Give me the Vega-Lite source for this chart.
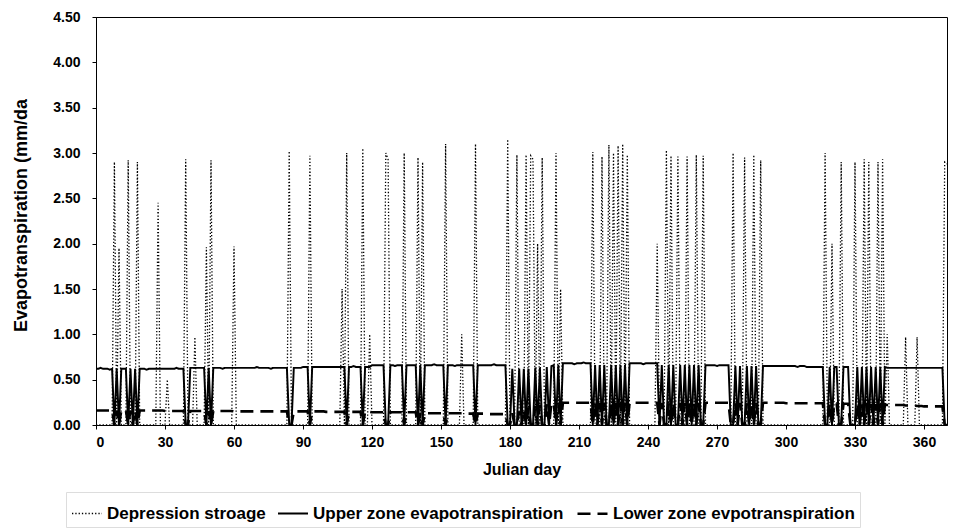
{
  "$schema": "https://vega.github.io/schema/vega-lite/v6.json",
  "width": 851,
  "height": 408,
  "autosize": "none",
  "padding": {"left": 96, "top": 17, "right": 8, "bottom": 105},
  "background": "white",
  "config": {
    "view": {"stroke": "black", "strokeWidth": 1},
    "font": "Liberation Sans",
    "axis": {
      "grid": false,
      "domainColor": "black",
      "tickColor": "black",
      "labelColor": "black",
      "labelFont": "Liberation Sans",
      "labelFontWeight": "bold",
      "labelFontSize": 14,
      "titleColor": "black",
      "titleFont": "Liberation Sans",
      "titleFontWeight": "bold",
      "titleFontSize": 16,
      "tickSize": 4
    }
  },
  "data": {
    "values": [
      {"d":0,"s":0,"u":0.62,"l":0.16},{"d":1,"s":0,"u":0.62,"l":0.16},{"d":2,"s":0,"u":0.63,"l":0.16},{"d":3,"s":0,"u":0.62,"l":0.16},
      {"d":4,"s":0,"u":0.62,"l":0.16},{"d":5,"s":0,"u":0.62,"l":0.16},{"d":6,"s":0,"u":0.61,"l":0.16},{"d":7,"s":0,"u":0.62,"l":0.16},
      {"d":8,"s":2.9,"u":0,"l":0},{"d":9,"s":0,"u":0.62,"l":0.16},{"d":10,"s":1.95,"u":0,"l":0},{"d":11,"s":0,"u":0.62,"l":0.16},
      {"d":12,"s":0,"u":0.62,"l":0.16},{"d":13,"s":0,"u":0.62,"l":0.16},{"d":14,"s":2.92,"u":0,"l":0},{"d":15,"s":0,"u":0.62,"l":0.16},
      {"d":16,"s":0,"u":0,"l":0},{"d":17,"s":0,"u":0.62,"l":0.16},{"d":18,"s":2.9,"u":0,"l":0},{"d":19,"s":0,"u":0.62,"l":0.16},
      {"d":20,"s":0,"u":0.62,"l":0.16},{"d":21,"s":0,"u":0.62,"l":0.16},{"d":22,"s":0,"u":0.61,"l":0.16},{"d":23,"s":0,"u":0.62,"l":0.16},
      {"d":24,"s":0,"u":0.62,"l":0.16},{"d":25,"s":0,"u":0.62,"l":0.16},{"d":26,"s":0,"u":0.62,"l":0.16},{"d":27,"s":2.45,"u":0.62,"l":0.16},
      {"d":28,"s":0,"u":0.62,"l":0.16},{"d":29,"s":0,"u":0.62,"l":0.16},{"d":30,"s":0,"u":0.62,"l":0.155},{"d":31,"s":0.5,"u":0.62,"l":0.155},
      {"d":32,"s":0,"u":0.62,"l":0.155},{"d":33,"s":0,"u":0.62,"l":0.155},{"d":34,"s":0,"u":0.62,"l":0.155},{"d":35,"s":0,"u":0.63,"l":0.155},
      {"d":36,"s":0,"u":0.62,"l":0.155},{"d":37,"s":0,"u":0.62,"l":0.155},{"d":38,"s":0,"u":0.62,"l":0.155},{"d":39,"s":2.93,"u":0,"l":0},
      {"d":40,"s":0,"u":0,"l":0},{"d":41,"s":0,"u":0.63,"l":0.155},{"d":42,"s":0,"u":0.63,"l":0.155},{"d":43,"s":0.97,"u":0.63,"l":0.155},
      {"d":44,"s":0,"u":0.63,"l":0.155},{"d":45,"s":0,"u":0.63,"l":0.155},{"d":46,"s":0,"u":0.63,"l":0.155},{"d":47,"s":0,"u":0.63,"l":0.155},
      {"d":48,"s":1.96,"u":0,"l":0},{"d":49,"s":0,"u":0.63,"l":0.155},{"d":50,"s":2.92,"u":0,"l":0},{"d":51,"s":0,"u":0.63,"l":0.155},
      {"d":52,"s":0,"u":0.63,"l":0.155},{"d":53,"s":0,"u":0.63,"l":0.155},{"d":54,"s":0,"u":0.63,"l":0.155},{"d":55,"s":0,"u":0.62,"l":0.155},
      {"d":56,"s":0,"u":0.63,"l":0.155},{"d":57,"s":0,"u":0.63,"l":0.155},{"d":58,"s":0,"u":0.63,"l":0.155},{"d":59,"s":0,"u":0.63,"l":0.155},
      {"d":60,"s":1.97,"u":0.63,"l":0.15},{"d":61,"s":0,"u":0.63,"l":0.15},{"d":62,"s":0,"u":0.63,"l":0.15},{"d":63,"s":0,"u":0.63,"l":0.15},
      {"d":64,"s":0,"u":0.63,"l":0.15},{"d":65,"s":0,"u":0.63,"l":0.15},{"d":66,"s":0,"u":0.63,"l":0.15},{"d":67,"s":0,"u":0.63,"l":0.15},
      {"d":68,"s":0,"u":0.63,"l":0.15},{"d":69,"s":0,"u":0.63,"l":0.15},{"d":70,"s":0,"u":0.64,"l":0.15},{"d":71,"s":0,"u":0.63,"l":0.15},
      {"d":72,"s":0,"u":0.63,"l":0.15},{"d":73,"s":0,"u":0.63,"l":0.15},{"d":74,"s":0,"u":0.63,"l":0.15},{"d":75,"s":0,"u":0.63,"l":0.15},
      {"d":76,"s":0,"u":0.62,"l":0.15},{"d":77,"s":0,"u":0.63,"l":0.15},{"d":78,"s":0,"u":0.63,"l":0.15},{"d":79,"s":0,"u":0.63,"l":0.15},
      {"d":80,"s":0,"u":0.63,"l":0.15},{"d":81,"s":0,"u":0.63,"l":0.15},{"d":82,"s":0,"u":0.63,"l":0.15},{"d":83,"s":0,"u":0.63,"l":0.15},
      {"d":84,"s":3.02,"u":0,"l":0},{"d":85,"s":0,"u":0,"l":0},{"d":86,"s":0,"u":0.63,"l":0.15},{"d":87,"s":0,"u":0.63,"l":0.15},
      {"d":88,"s":0,"u":0.63,"l":0.15},{"d":89,"s":0,"u":0.63,"l":0.15},{"d":90,"s":0,"u":0.64,"l":0.15},{"d":91,"s":0,"u":0.64,"l":0.15},
      {"d":92,"s":0,"u":0.64,"l":0.15},{"d":93,"s":2.97,"u":0,"l":0},{"d":94,"s":0,"u":0.64,"l":0.15},{"d":95,"s":0,"u":0.64,"l":0.15},
      {"d":96,"s":0,"u":0.64,"l":0.15},{"d":97,"s":0,"u":0.64,"l":0.15},{"d":98,"s":0,"u":0.64,"l":0.15},{"d":99,"s":0,"u":0.64,"l":0.15},
      {"d":100,"s":0,"u":0.64,"l":0.145},{"d":101,"s":0,"u":0.64,"l":0.145},{"d":102,"s":0,"u":0.64,"l":0.145},{"d":103,"s":0,"u":0.64,"l":0.145},
      {"d":104,"s":0,"u":0.64,"l":0.145},{"d":105,"s":0,"u":0.64,"l":0.145},{"d":106,"s":0,"u":0.64,"l":0.145},{"d":107,"s":1.5,"u":0.64,"l":0.145},
      {"d":108,"s":0,"u":0.64,"l":0.145},{"d":109,"s":3.0,"u":0,"l":0},{"d":110,"s":0,"u":0.64,"l":0.145},{"d":111,"s":0,"u":0.64,"l":0.145},
      {"d":112,"s":0,"u":0.65,"l":0.145},{"d":113,"s":0,"u":0.64,"l":0.145},{"d":114,"s":0,"u":0.64,"l":0.145},{"d":115,"s":0,"u":0.64,"l":0.145},
      {"d":116,"s":3.05,"u":0,"l":0},{"d":117,"s":0,"u":0.64,"l":0.145},{"d":118,"s":0,"u":0.64,"l":0.145},{"d":119,"s":1.0,"u":0.64,"l":0.145},
      {"d":120,"s":0,"u":0.66,"l":0.14},{"d":121,"s":0,"u":0.66,"l":0.14},{"d":122,"s":0,"u":0.66,"l":0.14},{"d":123,"s":0,"u":0.66,"l":0.14},
      {"d":124,"s":0,"u":0.66,"l":0.14},{"d":125,"s":0,"u":0.66,"l":0.14},{"d":126,"s":3.0,"u":0,"l":0},{"d":127,"s":2.93,"u":0,"l":0},
      {"d":128,"s":0,"u":0.66,"l":0.14},{"d":129,"s":0,"u":0.66,"l":0.14},{"d":130,"s":0,"u":0.65,"l":0.14},{"d":131,"s":0,"u":0.66,"l":0.14},
      {"d":132,"s":0,"u":0.66,"l":0.14},{"d":133,"s":0,"u":0.66,"l":0.14},{"d":134,"s":3.0,"u":0,"l":0},{"d":135,"s":0,"u":0.66,"l":0.14},
      {"d":136,"s":0,"u":0.66,"l":0.14},{"d":137,"s":0,"u":0.66,"l":0.14},{"d":138,"s":0,"u":0.66,"l":0.14},{"d":139,"s":0,"u":0.66,"l":0.14},
      {"d":140,"s":2.95,"u":0,"l":0},{"d":141,"s":0,"u":0.66,"l":0.13},{"d":142,"s":2.9,"u":0,"l":0},{"d":143,"s":0,"u":0.66,"l":0.13},
      {"d":144,"s":0,"u":0.66,"l":0.13},{"d":145,"s":0,"u":0.66,"l":0.13},{"d":146,"s":0,"u":0.66,"l":0.13},{"d":147,"s":0,"u":0.67,"l":0.13},
      {"d":148,"s":0,"u":0.66,"l":0.13},{"d":149,"s":0,"u":0.66,"l":0.13},{"d":150,"s":0,"u":0.66,"l":0.13},{"d":151,"s":0,"u":0.66,"l":0.13},
      {"d":152,"s":3.1,"u":0,"l":0},{"d":153,"s":0,"u":0.66,"l":0.13},{"d":154,"s":0,"u":0.66,"l":0.13},{"d":155,"s":0,"u":0.66,"l":0.13},
      {"d":156,"s":0,"u":0.65,"l":0.13},{"d":157,"s":0,"u":0.66,"l":0.13},{"d":158,"s":0,"u":0.66,"l":0.13},{"d":159,"s":1.0,"u":0.66,"l":0.13},
      {"d":160,"s":0,"u":0.66,"l":0.125},{"d":161,"s":0,"u":0.66,"l":0.125},{"d":162,"s":0,"u":0.66,"l":0.125},{"d":163,"s":0,"u":0.66,"l":0.125},
      {"d":164,"s":0,"u":0.66,"l":0.125},{"d":165,"s":3.1,"u":0,"l":0},{"d":166,"s":0,"u":0.66,"l":0.125},{"d":167,"s":0,"u":0.66,"l":0.125},
      {"d":168,"s":0,"u":0.66,"l":0.125},{"d":169,"s":0,"u":0.66,"l":0.125},{"d":170,"s":0,"u":0.66,"l":0.12},{"d":171,"s":0,"u":0.66,"l":0.12},
      {"d":172,"s":0,"u":0.66,"l":0.12},{"d":173,"s":0,"u":0.67,"l":0.12},{"d":174,"s":0,"u":0.66,"l":0.12},{"d":175,"s":0,"u":0.66,"l":0.12},
      {"d":176,"s":0,"u":0.66,"l":0.12},{"d":177,"s":0,"u":0.66,"l":0.12},{"d":178,"s":0,"u":0.66,"l":0.12},{"d":179,"s":3.15,"u":0,"l":0},
      {"d":180,"s":0,"u":0,"l":0},{"d":181,"s":0,"u":0.62,"l":0.13},{"d":182,"s":0,"u":0,"l":0},{"d":183,"s":2.98,"u":0,"l":0},
      {"d":184,"s":0,"u":0.62,"l":0.15},{"d":185,"s":0,"u":0,"l":0},{"d":186,"s":0,"u":0.62,"l":0.17},{"d":187,"s":2.98,"u":0,"l":0},
      {"d":188,"s":0,"u":0.62,"l":0.19},{"d":189,"s":2.97,"u":0,"l":0},{"d":190,"s":2.93,"u":0,"l":0},{"d":191,"s":0,"u":0.63,"l":0.21},
      {"d":192,"s":2.0,"u":0,"l":0},{"d":193,"s":0,"u":0.63,"l":0.22},{"d":194,"s":2.95,"u":0,"l":0},{"d":195,"s":0,"u":0,"l":0},
      {"d":196,"s":0,"u":0.64,"l":0.23},{"d":197,"s":0,"u":0,"l":0},{"d":198,"s":0,"u":0.65,"l":0.24},{"d":199,"s":0,"u":0.66,"l":0.24},
      {"d":200,"s":3.0,"u":0,"l":0},{"d":201,"s":0,"u":0.66,"l":0.245},{"d":202,"s":1.5,"u":0,"l":0},{"d":203,"s":0,"u":0.68,"l":0.245},
      {"d":204,"s":0,"u":0.68,"l":0.245},{"d":205,"s":0,"u":0.68,"l":0.245},{"d":206,"s":0,"u":0.68,"l":0.245},{"d":207,"s":0,"u":0.68,"l":0.245},
      {"d":208,"s":0,"u":0.67,"l":0.245},{"d":209,"s":0,"u":0.68,"l":0.245},{"d":210,"s":0,"u":0.68,"l":0.245},{"d":211,"s":0,"u":0.68,"l":0.245},
      {"d":212,"s":0,"u":0.69,"l":0.245},{"d":213,"s":0,"u":0.68,"l":0.245},{"d":214,"s":0,"u":0.68,"l":0.245},{"d":215,"s":0,"u":0.68,"l":0.245},
      {"d":216,"s":3.01,"u":0,"l":0},{"d":217,"s":0,"u":0.66,"l":0.245},{"d":218,"s":0,"u":0,"l":0},{"d":219,"s":0,"u":0.66,"l":0.245},
      {"d":220,"s":2.96,"u":0,"l":0},{"d":221,"s":0,"u":0.66,"l":0.245},{"d":222,"s":0,"u":0,"l":0},{"d":223,"s":3.09,"u":0,"l":0},
      {"d":224,"s":0,"u":0.66,"l":0.245},{"d":225,"s":3.0,"u":0,"l":0},{"d":226,"s":0,"u":0.66,"l":0.245},{"d":227,"s":3.08,"u":0,"l":0},
      {"d":228,"s":0,"u":0.66,"l":0.245},{"d":229,"s":3.1,"u":0,"l":0},{"d":230,"s":0,"u":0.66,"l":0.245},{"d":231,"s":2.98,"u":0,"l":0},
      {"d":232,"s":0,"u":0.68,"l":0.245},{"d":233,"s":0,"u":0.68,"l":0.245},{"d":234,"s":0,"u":0.68,"l":0.245},{"d":235,"s":0,"u":0.68,"l":0.245},
      {"d":236,"s":0,"u":0.68,"l":0.245},{"d":237,"s":0,"u":0.68,"l":0.245},{"d":238,"s":0,"u":0.67,"l":0.245},{"d":239,"s":0,"u":0.68,"l":0.245},
      {"d":240,"s":0,"u":0.68,"l":0.245},{"d":241,"s":0,"u":0.68,"l":0.245},{"d":242,"s":0,"u":0.68,"l":0.245},{"d":243,"s":0,"u":0.68,"l":0.245},
      {"d":244,"s":2.0,"u":0.68,"l":0.245},{"d":245,"s":0,"u":0,"l":0},{"d":246,"s":0,"u":0.66,"l":0.245},{"d":247,"s":0,"u":0,"l":0},
      {"d":248,"s":3.03,"u":0,"l":0},{"d":249,"s":0,"u":0.66,"l":0.245},{"d":250,"s":2.97,"u":0,"l":0},{"d":251,"s":0,"u":0.66,"l":0.245},
      {"d":252,"s":0,"u":0,"l":0},{"d":253,"s":2.96,"u":0,"l":0},{"d":254,"s":0,"u":0.66,"l":0.245},{"d":255,"s":0,"u":0,"l":0},
      {"d":256,"s":0,"u":0.66,"l":0.245},{"d":257,"s":2.96,"u":0,"l":0},{"d":258,"s":0,"u":0.66,"l":0.245},{"d":259,"s":0,"u":0,"l":0},
      {"d":260,"s":0,"u":0.66,"l":0.245},{"d":261,"s":2.98,"u":0,"l":0},{"d":262,"s":0,"u":0.66,"l":0.245},{"d":263,"s":0,"u":0,"l":0},
      {"d":264,"s":2.97,"u":0,"l":0},{"d":265,"s":0,"u":0.66,"l":0.245},{"d":266,"s":0,"u":0.66,"l":0.245},{"d":267,"s":0,"u":0.66,"l":0.245},
      {"d":268,"s":0,"u":0.66,"l":0.245},{"d":269,"s":0,"u":0.66,"l":0.245},{"d":270,"s":0,"u":0.65,"l":0.245},{"d":271,"s":0,"u":0.66,"l":0.245},
      {"d":272,"s":0,"u":0.66,"l":0.245},{"d":273,"s":0,"u":0.66,"l":0.245},{"d":274,"s":0,"u":0.66,"l":0.245},{"d":275,"s":0,"u":0.66,"l":0.245},
      {"d":276,"s":0,"u":0,"l":0},{"d":277,"s":3.0,"u":0,"l":0},{"d":278,"s":0,"u":0.65,"l":0.245},{"d":279,"s":0,"u":0,"l":0},
      {"d":280,"s":0,"u":0.65,"l":0.245},{"d":281,"s":0,"u":0,"l":0},{"d":282,"s":2.95,"u":0,"l":0},{"d":283,"s":0,"u":0.65,"l":0.245},
      {"d":284,"s":0,"u":0,"l":0},{"d":285,"s":0,"u":0.65,"l":0.245},{"d":286,"s":2.98,"u":0,"l":0},{"d":287,"s":0,"u":0.65,"l":0.245},
      {"d":288,"s":0,"u":0,"l":0},{"d":289,"s":2.92,"u":0,"l":0},{"d":290,"s":0,"u":0.65,"l":0.245},{"d":291,"s":0,"u":0.65,"l":0.245},
      {"d":292,"s":0,"u":0.65,"l":0.245},{"d":293,"s":0,"u":0.65,"l":0.245},{"d":294,"s":0,"u":0.65,"l":0.245},{"d":295,"s":0,"u":0.65,"l":0.245},
      {"d":296,"s":0,"u":0.65,"l":0.245},{"d":297,"s":0,"u":0.65,"l":0.245},{"d":298,"s":0,"u":0.65,"l":0.245},{"d":299,"s":0,"u":0.65,"l":0.245},
      {"d":300,"s":0,"u":0.65,"l":0.24},{"d":301,"s":0,"u":0.65,"l":0.24},{"d":302,"s":0,"u":0.65,"l":0.24},{"d":303,"s":0,"u":0.65,"l":0.24},
      {"d":304,"s":0,"u":0.65,"l":0.24},{"d":305,"s":0,"u":0.64,"l":0.24},{"d":306,"s":0,"u":0.65,"l":0.24},{"d":307,"s":0,"u":0.65,"l":0.24},
      {"d":308,"s":0,"u":0.65,"l":0.24},{"d":309,"s":0,"u":0.64,"l":0.24},{"d":310,"s":0,"u":0.64,"l":0.24},{"d":311,"s":0,"u":0.64,"l":0.24},
      {"d":312,"s":0,"u":0.64,"l":0.24},{"d":313,"s":0,"u":0.64,"l":0.24},{"d":314,"s":0,"u":0.64,"l":0.24},{"d":315,"s":0,"u":0.64,"l":0.24},
      {"d":316,"s":0,"u":0.64,"l":0.24},{"d":317,"s":3.0,"u":0,"l":0},{"d":318,"s":0,"u":0,"l":0},{"d":319,"s":0,"u":0.64,"l":0.24},
      {"d":320,"s":2.0,"u":0,"l":0},{"d":321,"s":0,"u":0.64,"l":0.24},{"d":322,"s":0,"u":0.64,"l":0.24},{"d":323,"s":0,"u":0,"l":0},
      {"d":324,"s":2.9,"u":0,"l":0},{"d":325,"s":0,"u":0.64,"l":0.235},{"d":326,"s":0,"u":0.64,"l":0.235},{"d":327,"s":0,"u":0.64,"l":0.235},
      {"d":328,"s":0,"u":0,"l":0},{"d":329,"s":0,"u":0,"l":0},{"d":330,"s":2.9,"u":0,"l":0},{"d":331,"s":0,"u":0.64,"l":0.235},
      {"d":332,"s":0,"u":0,"l":0},{"d":333,"s":0,"u":0.64,"l":0.23},{"d":334,"s":2.93,"u":0,"l":0},{"d":335,"s":0,"u":0.64,"l":0.23},
      {"d":336,"s":2.9,"u":0,"l":0},{"d":337,"s":0,"u":0.64,"l":0.23},{"d":338,"s":0,"u":0,"l":0},{"d":339,"s":0,"u":0.64,"l":0.23},
      {"d":340,"s":2.9,"u":0,"l":0},{"d":341,"s":0,"u":0.64,"l":0.23},{"d":342,"s":2.93,"u":0,"l":0},{"d":343,"s":0,"u":0.64,"l":0.225},
      {"d":344,"s":1.0,"u":0.63,"l":0.22},{"d":345,"s":0,"u":0.63,"l":0.22},{"d":346,"s":0,"u":0.63,"l":0.22},{"d":347,"s":0,"u":0.63,"l":0.22},
      {"d":348,"s":0,"u":0.63,"l":0.22},{"d":349,"s":0,"u":0.63,"l":0.22},{"d":350,"s":0,"u":0.63,"l":0.22},{"d":351,"s":0,"u":0.63,"l":0.22},
      {"d":352,"s":0.97,"u":0.63,"l":0.215},{"d":353,"s":0,"u":0.63,"l":0.215},{"d":354,"s":0,"u":0.63,"l":0.215},{"d":355,"s":0,"u":0.63,"l":0.215},
      {"d":356,"s":0,"u":0.63,"l":0.215},{"d":357,"s":0.97,"u":0.63,"l":0.21},{"d":358,"s":0,"u":0.63,"l":0.21},{"d":359,"s":0,"u":0.63,"l":0.21},
      {"d":360,"s":0,"u":0.63,"l":0.205},{"d":361,"s":0,"u":0.63,"l":0.205},{"d":362,"s":0,"u":0.63,"l":0.205},{"d":363,"s":0,"u":0.63,"l":0.205},
      {"d":364,"s":0,"u":0.63,"l":0.205},{"d":365,"s":0,"u":0.63,"l":0.205},{"d":366,"s":0,"u":0.63,"l":0.205},{"d":367,"s":0,"u":0.63,"l":0.205},
      {"d":368,"s":0,"u":0.63,"l":0.205},{"d":369,"s":2.9,"u":0,"l":0},{"d":370,"s":2.88,"u":0,"l":0}
    ]
  },
  "transform": [{"fold": ["s", "u", "l"], "as": ["key", "v"]}],
  "mark": {"type": "line", "interpolate": "linear", "clip": true},
  "encoding": {
    "x": {
      "field": "d",
      "type": "quantitative",
      "scale": {"domain": [0, 370], "nice": false, "zero": false},
      "axis": {
        "values": [0, 30, 60, 90, 120, 150, 180, 210, 240, 270, 300, 330, 360],
        "title": "Julian day",
        "labelPadding": 6,
        "titlePadding": 12
      }
    },
    "y": {
      "field": "v",
      "type": "quantitative",
      "scale": {"domain": [0, 4.5], "nice": false},
      "axis": {
        "values": [0, 0.5, 1, 1.5, 2, 2.5, 3, 3.5, 4, 4.5],
        "format": ".2f",
        "title": "Evapotranspiration (mm/da",
        "titleFontSize": 18,
        "titleY": 198,
        "labelPadding": 12,
        "titlePadding": 22
      }
    },
    "color": {
      "field": "key",
      "type": "nominal",
      "scale": {"domain": ["s", "u", "l"], "range": ["#000000", "#000000", "#000000"]},
      "legend": {
        "title": null,
        "orient": "none",
        "legendX": -30,
        "legendY": 475,
        "direction": "horizontal",
        "symbolType": "stroke",
        "symbolSize": 900,
        "symbolStrokeWidth": 2,
        "labelFont": "Liberation Sans",
        "labelFontWeight": "bold",
        "labelFontSize": 17,
        "labelColor": "black",
        "labelLimit": 400,
        "columnPadding": 8,
        "padding": 5,
        "strokeColor": "#dddddd",
        "labelExpr": "{'s': 'Depression stroage', 'u': 'Upper zone evapotranspiration', 'l': 'Lower zone evpotranspiration'}[datum.value]"
      }
    },
    "strokeDash": {
      "field": "key",
      "type": "nominal",
      "scale": {"domain": ["s", "u", "l"], "range": [[1.3, 2], [1, 0], [13, 7]]},
      "legend": {
        "title": null,
        "orient": "none",
        "legendX": -30,
        "legendY": 475,
        "direction": "horizontal",
        "symbolType": "stroke",
        "symbolSize": 900,
        "symbolStrokeWidth": 2,
        "labelFont": "Liberation Sans",
        "labelFontWeight": "bold",
        "labelFontSize": 17,
        "labelColor": "black",
        "labelLimit": 400,
        "columnPadding": 8,
        "padding": 5,
        "strokeColor": "#dddddd",
        "labelExpr": "{'s': 'Depression stroage', 'u': 'Upper zone evapotranspiration', 'l': 'Lower zone evpotranspiration'}[datum.value]"
      }
    },
    "strokeWidth": {
      "field": "key",
      "type": "ordinal",
      "scale": {"domain": ["s", "u", "l"], "range": [1.3, 2.6, 2]},
      "legend": null
    }
  }
}
